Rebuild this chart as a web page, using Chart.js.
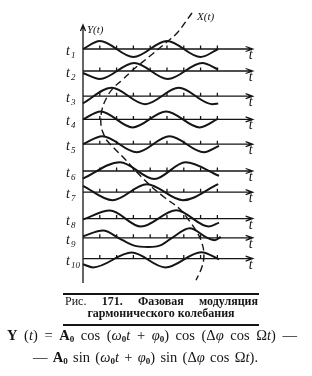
<!DOCTYPE html>
<html lang="ru">
<head>
<meta charset="UTF-8">
<title>Фазовая модуляция</title>
<style>
    body { margin: 0; background: #fff; }
    .wrap { position: relative; width: 312px; height: 376px; overflow: hidden; }
    .chartBox { position: absolute; left: 0; top: 0; width: 312px; height: 376px; }
    .rule { position: absolute; left: 63px; width: 196px; background: #151515; }
    .cap {
        position: absolute; font-family: "Liberation Serif", serif; font-weight: bold;
        font-size: 12px; line-height: 12px; color: #151515; white-space: nowrap;
    }
    .cap.just { text-align: justify; text-align-last: justify; }
    .cap .light { font-weight: normal; }
    .fml {
        position: absolute; font-family: "Liberation Serif", serif; font-size: 14.5px;
        line-height: 16px; color: #151515; text-align: justify; text-align-last: justify;
        white-space: nowrap;
    }
    .fml b { font-weight: bold; }
    .fml sub { font-size: 9px; vertical-align: -2px; line-height: 0; font-weight: bold; }
</style>
</head>
<body>
<div class="wrap">
    <div class="chartBox"><canvas id="chart"></canvas></div>

    <div class="rule" style="top:293px;height:2px"></div>
    <div class="cap just" style="left:65px;top:295px;width:193px"><span class="light">Рис.</span> 171. Фазовая модуляция</div>
    <div class="cap" style="left:63px;top:307px;width:196px;text-align:center">гармонического колебания</div>
    <div class="rule" style="top:324px;height:1.5px"></div>

    <div class="fml" style="left:7px;top:326.5px;width:290px"><b>Y</b> (<i>t</i>) = <b>A</b><sub>0</sub> cos (<i>ω</i><sub>0</sub><i>t</i> + <i>φ</i><sub>0</sub>) cos (Δ<i>φ</i> cos Ω<i>t</i>) —</div>
    <div class="fml" style="left:33px;top:349px;width:225px">— <b>A</b><sub>0</sub> sin (<i>ω</i><sub>0</sub><i>t</i> + <i>φ</i><sub>0</sub>) sin (Δ<i>φ</i> cos Ω<i>t</i>).</div>
</div>

<script src="https://cdn.jsdelivr.net/npm/chart.js"></script>
<script>
    // moments t1..t10, one oscillogram per row
    const rowNames = ['1', '2', '3', '4', '5', '6', '7', '8', '9', '10'];
    // level of each row's time axis on the Y scale
    const rowLevel = [0, -2.75, -5.9, -8.8, -11.9, -15.25, -17.9, -21.2, -23.6, -26.2];
    const tickValues = [1, 2, 3, 4, 5, 6, 7, 8];

    // [t, Y] : start, extrema, end of each wave
    const row1 = [[0, 0], [1, 1], [3, -1], [5, 1], [7, -1], [8.05, 0]];
    const row2 = [[0, -0.25], [1, -1], [3.05, 1], [5.05, -1], [7.1, 1], [8.05, 0.2]];
    const row3 = [[0, -0.9], [1.7, 1.05], [3.7, -1], [5.7, 1.05], [7.7, -1], [8.05, -0.9]];
    const row4 = [[0, 0], [1.05, 1], [2.95, -1], [4.95, 1], [6.95, -1], [8.05, 0.1]];
    const row5 = [[0, 0], [1.15, 1], [3.2, -1], [5.15, 1], [7.2, -1], [8.1, -0.2]];
    const row6 = [[0, -0.95], [2.2, 1.1], [4.25, -1], [6.1, 1.1], [8.1, -0.6]];
    const row7 = [[0, 0.8], [1.75, -1], [3.8, 1], [5.95, -1], [8.05, 1]];
    const row8 = [[0, -0.1], [1.6, 1], [3.45, -1], [5.55, 1.05], [7.5, -1], [8.1, -0.5]];
    const row9 = [[0, 0.2], [1.2, 0.9], [2.1, 0], [3.0, -0.95], [3.9, -1.15], [4.6, -0.95],
                  [5.3, 0], [6.35, 1.2], [7.4, 0], [7.85, -0.3], [8.2, 0.1]];
    const row10 = [[0, -0.7], [0.6, -1.1], [2.9, 0.75], [4.9, -1.1], [7.05, 0.8], [8.1, -0.1]];
    const rows = [row1, row2, row3, row4, row5, row6, row7, row8, row9, row10];

    // dashed X(t): path of one phase point through the rows
    const phaseTrace = [
        [6.49, 4.5], [5.6, 2.0], [5.06, 1.0], [3.99, -0.875], [2.98, -2.6], [2.32, -3.9],
        [1.79, -4.9], [1.43, -6.0], [1.13, -7.6], [1.07, -9.5], [1.25, -10.75], [1.49, -11.6],
        [2.38, -13.5], [3.21, -15.4], [4.1, -17.25], [4.88, -18.6], [5.76, -20.0], [6.3, -21.4],
        [6.79, -22.9], [7.08, -24.25], [7.2, -25.75], [7.08, -27.25], [6.73, -28.9]
    ];

    const ink = '#151515';
    const axisTop = 3, axisBottom = -29.25, axisEnd = 10.1;

    const axesPlugin = {
        id: 'axesPlugin',
        beforeDatasetsDraw(chart) {
            const { ctx, scales: { x, y } } = chart;
            const x0 = x.getPixelForValue(0);
            const xe = x.getPixelForValue(axisEnd);
            ctx.save();
            ctx.strokeStyle = ink;
            ctx.fillStyle = ink;
            ctx.lineWidth = 1.3;

            // vertical axis with arrow
            const yt = y.getPixelForValue(axisTop);
            ctx.beginPath();
            ctx.moveTo(x0, y.getPixelForValue(axisBottom));
            ctx.lineTo(x0, yt);
            ctx.moveTo(x0 - 2.5, yt + 6);
            ctx.lineTo(x0, yt);
            ctx.lineTo(x0 + 2.5, yt + 6);
            ctx.stroke();

            ctx.font = 'italic 11px "Liberation Serif"';
            ctx.fillText('Y(t)', x0 + 4, yt + 8);

            rowLevel.forEach((lv, i) => {
                const py = y.getPixelForValue(lv);
                ctx.beginPath();
                ctx.moveTo(x0, py);
                ctx.lineTo(xe, py);
                tickValues.forEach(t => {
                    const px = x.getPixelForValue(t);
                    ctx.moveTo(px, py);
                    ctx.lineTo(px, py - 3.5);
                });
                ctx.moveTo(xe - 7, py - 2.5);
                ctx.lineTo(xe, py);
                ctx.lineTo(xe - 7, py + 2.5);
                ctx.stroke();

                ctx.font = 'italic 14px "Liberation Serif"';
                ctx.fillText('t', xe - 4, py + 10);
                ctx.fillText('t', x0 - 17, py + 6);
                ctx.font = 'italic 9px "Liberation Serif"';
                ctx.fillText(rowNames[i], x0 - 12, py + 9);
            });

            const top = phaseTrace[0];
            ctx.font = 'italic 11px "Liberation Serif"';
            ctx.fillText('X(t)', x.getPixelForValue(top[0]) + 5, y.getPixelForValue(top[1]) + 7);
            ctx.restore();
        }
    };

    const datasets = rows.map((r, i) => ({
        data: r.map(p => ({ x: p[0], y: rowLevel[i] + p[1] })),
        borderColor: ink,
        borderWidth: 2,
        pointRadius: 0,
        cubicInterpolationMode: 'monotone',
        fill: false
    }));
    datasets.push({
        data: phaseTrace.map(p => ({ x: p[0], y: p[1] })),
        borderColor: ink,
        borderWidth: 1.4,
        borderDash: [7, 4],
        pointRadius: 0,
        tension: 0.4,
        fill: false
    });

    new Chart(document.getElementById('chart'), {
        type: 'line',
        data: { datasets: datasets },
        options: {
            responsive: true,
            maintainAspectRatio: false,
            animation: false,
            clip: false,
            layout: { padding: { left: 83, right: 57, top: 10, bottom: 91 } },
            plugins: { legend: { display: false }, tooltip: { enabled: false } },
            scales: {
                x: { type: 'linear', min: 0, max: 10.24, display: false },
                y: { type: 'linear', min: -29.5, max: 4.875, display: false }
            }
        },
        plugins: [axesPlugin]
    });
</script>
</body>
</html>
